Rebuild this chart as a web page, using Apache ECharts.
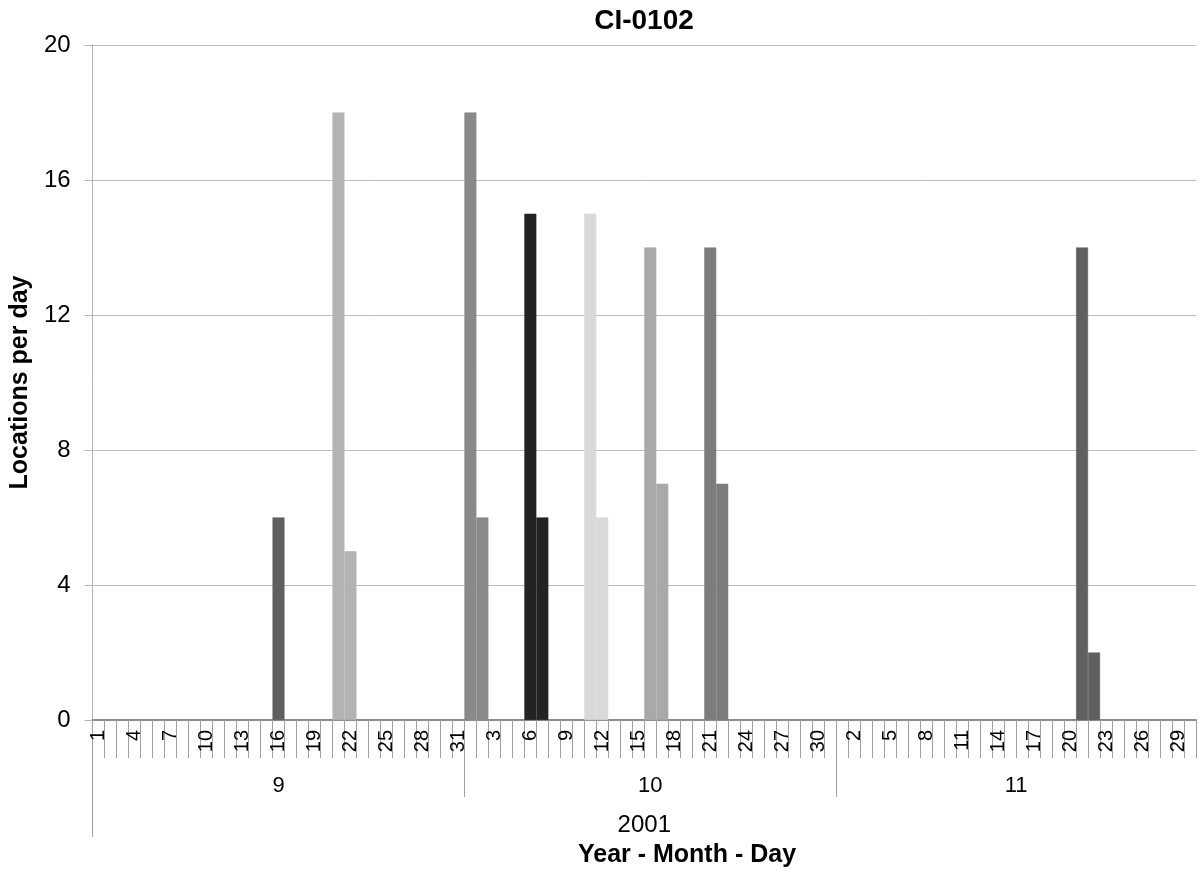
<!DOCTYPE html>
<html><head><meta charset="utf-8">
<script src="https://cdn.jsdelivr.net/npm/echarts@6/dist/echarts.min.js"></script>
<style>html,body{margin:0;padding:0;background:#fff}#c{width:1199px;height:871px}</style>
</head><body><div id="c"></div>
<script>
const chartTitle = 'CI-0102';
const yAxisTitle = 'Locations per day';
const xAxisTitle = 'Year - Month - Day';
const yearLabel = '2001';
const months = ['9', '10', '11'];
const monthDays = [31, 31, 30];
const yTicks = [0, 4, 8, 12, 16, 20];

// [month-day, locations per day]
const seriesSep16 = [['9-16', 6]];
const seriesSep21 = [['9-21', 18], ['9-22', 5]];
const seriesOct01 = [['10-1', 18], ['10-2', 6]];
const seriesOct06 = [['10-6', 15], ['10-7', 6]];
const seriesOct11 = [['10-11', 15], ['10-12', 6]];
const seriesOct16 = [['10-16', 14], ['10-17', 7]];
const seriesOct21 = [['10-21', 14], ['10-22', 7]];
const seriesNov21 = [['11-21', 14], ['11-22', 2]];

const allSeries = [seriesSep16, seriesSep21, seriesOct01, seriesOct06, seriesOct11, seriesOct16, seriesOct21, seriesNov21];
const barColors = ['#5f5f5f', '#b3b3b3', '#898989', '#232323', '#d9d9d9', '#a9a9a9', '#7c7c7c', '#5f5f5f'];

const categories = [];
months.forEach((m, i) => { for (let d = 1; d <= monthDays[i]; d++) categories.push(m + '-' + d); });
const total = categories.length;
const monthStarts = [];
let acc = 0;
monthDays.forEach(n => { monthStarts.push(acc); acc += n; });
const monthCenters = monthStarts.map((s, i) => s + monthDays[i] / 2);

const FF = '"Liberation Sans", Arial, sans-serif';
const tickCol = '#a0a0a0';

const chart = echarts.init(document.getElementById('c'), null, { renderer: 'canvas' });
chart.setOption({
  animation: false,
  backgroundColor: '#fff',
  title: [
    {
      text: chartTitle, left: 644, textAlign: 'center', top: 7, padding: 0,
      textStyle: { fontFamily: FF, fontSize: 28, fontWeight: 'bold', color: '#000' }
    },
    {
      text: xAxisTitle, left: 687, textAlign: 'center', top: 843, padding: 0,
      textStyle: { fontFamily: FF, fontSize: 25, fontWeight: 'bold', color: '#000' }
    }
  ],
  grid: { left: 91, right: 3, top: 45, bottom: 151, containLabel: false },
  xAxis: [
    {
      type: 'category', data: categories, position: 'bottom',
      axisLine: { show: true, lineStyle: { color: '#8c8c8c', width: 2 } },
      axisTick: { show: true, interval: 0, length: 38, lineStyle: { color: tickCol, width: 1 } },
      axisLabel: {
        interval: 2, rotate: 90, margin: 10, fontFamily: FF, fontSize: 20, color: '#000',
        formatter: v => v.split('-')[1]
      },
      splitLine: { show: false }
    },
    {
      type: 'value', min: 0, max: total, position: 'bottom',
      axisLine: { show: false },
      axisTick: { show: true, customValues: monthStarts, length: 77, lineStyle: { color: tickCol, width: 1 } },
      axisLabel: {
        customValues: monthCenters, margin: 55, fontFamily: FF, fontSize: 22, color: '#000',
        formatter: v => {
          let best = 0;
          monthCenters.forEach((c, i) => { if (Math.abs(c - v) < Math.abs(monthCenters[best] - v)) best = i; });
          return months[best];
        }
      },
      splitLine: { show: false }
    },
    {
      type: 'value', min: 0, max: total, position: 'bottom',
      axisLine: { show: false },
      axisTick: { show: true, customValues: [0], length: 117, lineStyle: { color: tickCol, width: 1 } },
      axisLabel: {
        customValues: [total / 2], margin: 93, fontFamily: FF, fontSize: 24, color: '#000',
        formatter: () => yearLabel
      },
      splitLine: { show: false }
    }
  ],
  yAxis: {
    type: 'value', min: yTicks[0], max: yTicks[yTicks.length - 1], interval: yTicks[1] - yTicks[0],
    axisLine: { show: true, lineStyle: { color: '#b4b4b4', width: 1 } },
    axisTick: { show: true, length: 8, lineStyle: { color: '#b4b4b4' } },
    splitLine: { show: true, lineStyle: { color: '#bdbdbd', width: 1 } },
    axisLabel: { fontFamily: FF, fontSize: 24, color: '#000', margin: 22 },
    name: yAxisTitle, nameLocation: 'middle', nameGap: 45,
    nameTextStyle: { fontFamily: FF, fontSize: 25, fontWeight: 'bold', color: '#000' }
  },
  series: allSeries.map((d, i) => ({
    type: 'bar', xAxisIndex: 0, yAxisIndex: 0,
    data: d, barGap: '-100%', barCategoryGap: '0%',
    itemStyle: { color: barColors[i], borderColor: barColors[i], borderWidth: 0.6 }
  }))
});
</script>
</body></html>
